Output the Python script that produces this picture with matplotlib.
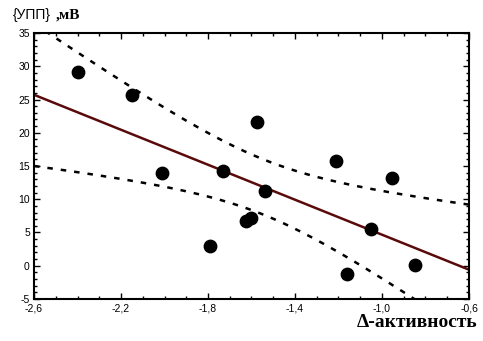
import numpy as np
import matplotlib.pyplot as plt
from matplotlib.ticker import MultipleLocator, FixedLocator, FuncFormatter

# measured points
activity = [-2.40, -2.15, -2.01, -1.79, -1.73, -1.625, -1.60, -1.575, -1.54,
            -1.21, -1.16, -1.05, -0.955, -0.85]
upp = [29.1, 25.7, 13.9, 3.0, 14.2, 6.7, 7.2, 21.6, 11.2,
       15.7, -1.2, 5.5, 13.2, 0.1]
x_ticks = [-2.6, -2.2, -1.8, -1.4, -1.0, -0.6]

x = np.array(activity)
y = np.array(upp)
n = len(x)

# linear fit with 95% confidence band for the mean
slope, icpt = np.polyfit(x, y, 1)
xs = np.linspace(-2.6, -0.6, 200)
fit = slope * xs + icpt
resid = y - (slope * x + icpt)
s = np.sqrt(np.sum(resid ** 2) / (n - 2))
sxx = np.sum((x - x.mean()) ** 2)
t = 2.179
band = t * s * np.sqrt(1.0 / n + (xs - x.mean()) ** 2 / sxx)

fig = plt.figure(figsize=(4.83, 3.41), dpi=100)
ax = fig.add_axes([0.0704, 0.1232, 0.9006, 0.78])

ax.plot(xs, fit, color='#5a0a0a', lw=1.8)
ax.plot(xs, fit + band, color='black', lw=1.8, dashes=(2.2, 3.2))
ax.plot(xs, fit - band, color='black', lw=1.8, dashes=(2.2, 3.2))
ax.scatter(x, y, s=80, color='black', zorder=3)

ax.set_xlim(-2.6, -0.6)
ax.set_ylim(-5, 35)
ax.xaxis.set_major_locator(FixedLocator(x_ticks))
ax.xaxis.set_minor_locator(MultipleLocator(0.1))
ax.yaxis.set_major_locator(MultipleLocator(5))
ax.yaxis.set_minor_locator(MultipleLocator(1))

ax.xaxis.set_major_formatter(FuncFormatter(lambda v, p: ('%.1f' % v).replace('.', ',')))
ax.yaxis.set_major_formatter(FuncFormatter(lambda v, p: '%d' % round(v)))
ax.tick_params(which='both', direction='in', top=True, right=True,
               labelsize=7.5, width=1, pad=3)
ax.tick_params(which='major', length=4)
ax.tick_params(which='minor', length=2.5)
for lbl in ax.get_xticklabels() + ax.get_yticklabels():
    lbl.set_family('Liberation Sans')
for sp in ax.spines.values():
    sp.set_linewidth(1.5)

fig.text(0.027, 0.956, '{УПП}', fontsize=10, family='Liberation Sans', va='center')
fig.text(0.116, 0.956, ',мВ', fontsize=11, family='Liberation Serif',
         weight='bold', va='center')
fig.text(0.988, 0.053, 'Δ-активность', fontsize=14, family='Liberation Serif',
         weight='bold', ha='right', va='center')

fig.savefig('out.png', dpi=100)
